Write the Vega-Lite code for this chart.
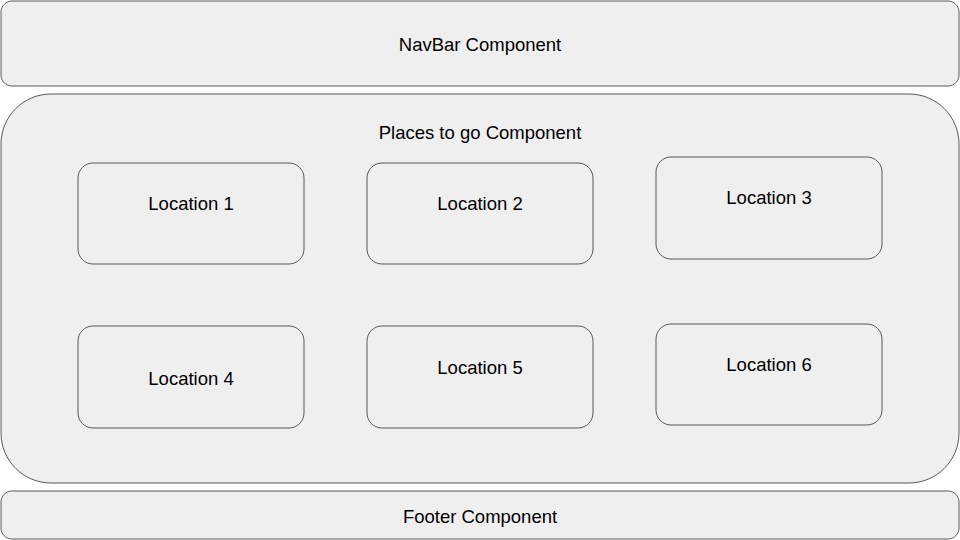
{
  "$schema": "https://vega.github.io/schema/vega-lite/v6.json",
  "width": 960,
  "height": 540,
  "autosize": {"type": "fit", "contains": "padding"},
  "padding": 0,
  "background": "white",
  "config": {"view": {"stroke": null}, "font": "Liberation Sans"},
  "data": {
    "values": [
      {"label": "NavBar Component", "kind": "bar", "x": 1, "x2": 959, "y": 1, "y2": 86, "ty": 44},
      {"label": "Places to go Component", "kind": "big", "x": 1, "x2": 959, "y": 94, "y2": 483, "ty": 132},
      {"label": "Location 1", "kind": "loc", "x": 78, "x2": 304, "y": 163, "y2": 264, "ty": 203},
      {"label": "Location 2", "kind": "loc", "x": 367, "x2": 593, "y": 163, "y2": 264, "ty": 203},
      {"label": "Location 3", "kind": "loc", "x": 656, "x2": 882, "y": 157, "y2": 259, "ty": 197},
      {"label": "Location 4", "kind": "loc", "x": 78, "x2": 304, "y": 326, "y2": 428, "ty": 378},
      {"label": "Location 5", "kind": "loc", "x": 367, "x2": 593, "y": 326, "y2": 428, "ty": 367},
      {"label": "Location 6", "kind": "loc", "x": 656, "x2": 882, "y": 324, "y2": 425, "ty": 364},
      {"label": "Footer Component", "kind": "bar", "x": 1, "x2": 959, "y": 491, "y2": 539, "ty": 516}
    ]
  },
  "encoding": {
    "x": {"field": "x", "type": "quantitative", "scale": {"domain": [0, 960]}, "axis": null},
    "y": {"field": "y", "type": "quantitative", "scale": {"domain": [0, 540], "reverse": true}, "axis": null}
  },
  "layer": [
    {
      "transform": [{"filter": "datum.kind == 'big'"}],
      "mark": {"type": "rect", "cornerRadius": 50, "fill": "#efefef", "stroke": "#595959", "strokeWidth": 1},
      "encoding": {"x2": {"field": "x2"}, "y2": {"field": "y2"}}
    },
    {
      "transform": [{"filter": "datum.kind == 'bar'"}],
      "mark": {"type": "rect", "cornerRadius": 11, "fill": "#efefef", "stroke": "#595959", "strokeWidth": 1},
      "encoding": {"x2": {"field": "x2"}, "y2": {"field": "y2"}}
    },
    {
      "transform": [{"filter": "datum.kind == 'loc'"}],
      "mark": {"type": "rect", "cornerRadius": 15, "fill": "#efefef", "stroke": "#595959", "strokeWidth": 1},
      "encoding": {"x2": {"field": "x2"}, "y2": {"field": "y2"}}
    },
    {
      "transform": [{"calculate": "(datum.x + datum.x2) / 2", "as": "tx"}],
      "mark": {"type": "text", "fontSize": 18.5, "dy": 1, "color": "#000000", "align": "center", "baseline": "middle"},
      "encoding": {
        "x": {"field": "tx", "type": "quantitative"},
        "y": {"field": "ty", "type": "quantitative"},
        "text": {"field": "label"}
      }
    }
  ]
}
